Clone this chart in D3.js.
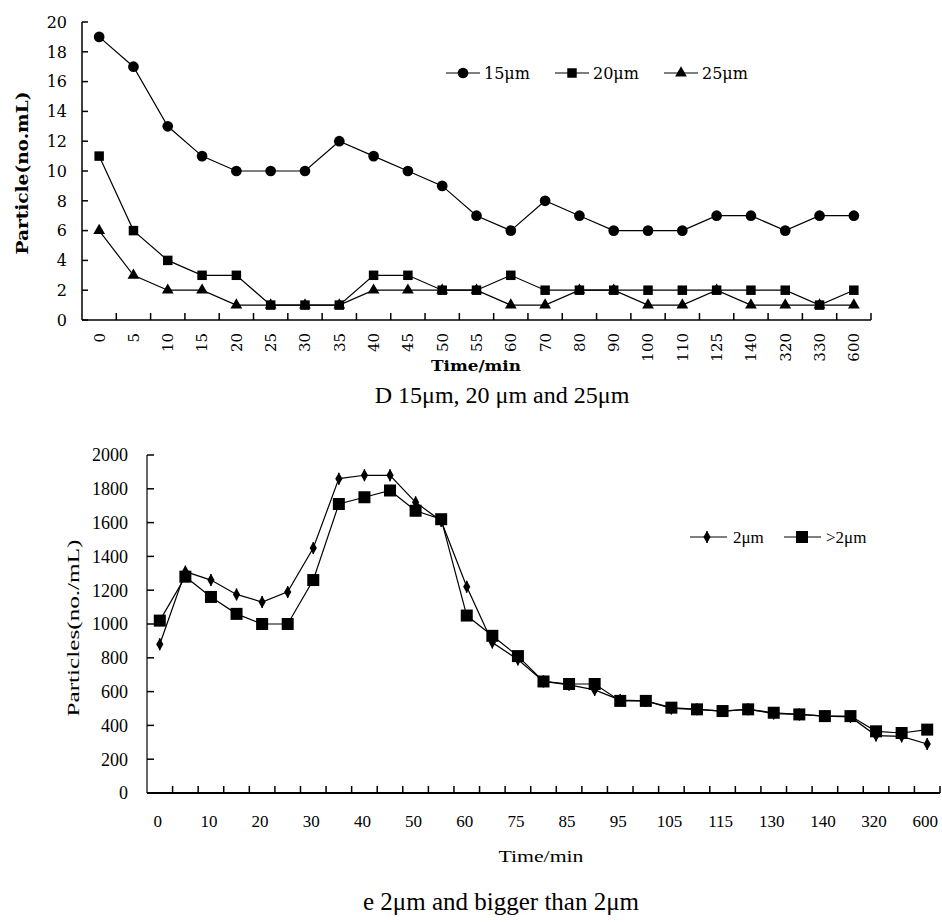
<!DOCTYPE html>
<html><head><meta charset="utf-8">
<script src="https://cdn.jsdelivr.net/npm/d3@7"></script>
<style>body{margin:0;background:#fff}svg{display:block}</style>
</head><body>
<svg id="c" width="942" height="922"></svg>
<script>
// ---------- DATA: chart D ----------
const topCategories = ["0","5","10","15","20","25","30","35","40","45","50","55","60","70","80","90","100","110","125","140","320","330","600"];
const series15um = [19,17,13,11,10,10,10,12,11,10,9,7,6,8,7,6,6,6,7,7,6,7,7];
const series20um = [11,6,4,3,3,1,1,1,3,3,2,2,3,2,2,2,2,2,2,2,2,1,2];
const series25um = [6,3,2,2,1,1,1,1,2,2,2,2,1,1,2,2,1,1,2,1,1,1,1];
const topYTicks = [0,2,4,6,8,10,12,14,16,18,20];
const topLegend = ["15μm","20μm","25μm"];

// ---------- DATA: chart e ----------
const bottomCategories = ["0","5","10","15","20","25","30","35","40","45","50","55","60","70","75","80","85","90","95","100","105","110","115","125","130","135","140","150","320","330","600"];
const bottomTickLabels = ["0","10","20","30","40","50","60","75","85","95","105","115","130","140","320","600"];
const series2um   = [880,1310,1260,1175,1130,1190,1450,1860,1880,1880,1720,1610,1220,890,790,660,640,610,550,545,500,495,485,495,470,465,455,450,340,335,290];
const seriesGt2um = [1020,1280,1160,1060,1000,1000,1260,1710,1750,1790,1670,1620,1050,930,810,660,645,645,545,545,505,495,485,495,475,465,455,455,365,355,375];
const bottomYTicks = [0,200,400,600,800,1000,1200,1400,1600,1800,2000];
const bottomLegend = ["2μm",">2μm"];

const svg = d3.select("#c");

// ================= TOP CHART =================
{
  const g = svg.append("g");
  const x = d3.scaleBand().domain(topCategories).range([82, 871]);
  const y = d3.scaleLinear().domain([0, 20]).range([320, 22]);
  const tf = "DejaVu Serif";

  // y axis
  g.append("line").attr("x1",82).attr("x2",82).attr("y1",y(20)).attr("y2",y(0)).attr("stroke","#000").attr("stroke-width",1.5);
  topYTicks.forEach(t=>{
    g.append("line").attr("x1",82).attr("x2",88).attr("y1",y(t)).attr("y2",y(t)).attr("stroke","#000").attr("stroke-width",1.5);
    g.append("text").attr("x",67).attr("y",y(t)).attr("dy","0.36em").attr("text-anchor","end")
      .attr("font-family",tf).attr("font-size",16).text(t);
  });
  // x axis
  g.append("line").attr("x1",82).attr("x2",871).attr("y1",y(0)).attr("y2",y(0)).attr("stroke","#000").attr("stroke-width",1.5);
  topCategories.forEach((c,i)=>{
    const bx = x(c) + x.bandwidth();
    g.append("line").attr("x1",bx).attr("x2",bx).attr("y1",y(0)).attr("y2",y(0)-7).attr("stroke","#000").attr("stroke-width",1.5);
    const cx = x(c) + x.bandwidth()/2;
    g.append("text").attr("transform",`translate(${cx},333) rotate(-90)`).attr("dy","0.36em")
      .attr("text-anchor","end").attr("font-family",tf).attr("font-size",15).text(c);
  });
  // axis titles
  g.append("text").attr("x",476).attr("y",371).attr("text-anchor","middle")
    .attr("font-family",tf).attr("font-weight","bold").attr("font-size",15)
    .attr("textLength",90).attr("lengthAdjust","spacingAndGlyphs").text("Time/min");
  g.append("text").attr("transform","translate(28,173) rotate(-90)").attr("text-anchor","middle")
    .attr("font-family",tf).attr("font-weight","bold").attr("font-size",17)
    .attr("textLength",163).attr("lengthAdjust","spacingAndGlyphs").text("Particle(no.mL)");

  const line = d3.line().x((d,i)=>x(topCategories[i])+x.bandwidth()/2).y(d=>y(d));
  const sets = [series15um, series20um, series25um];
  const syms = [d3.symbolCircle, d3.symbolSquare, d3.symbolTriangle];
  const sizes = [90, 90, 60];
  sets.forEach((s,k)=>{
    g.append("path").attr("d",line(s)).attr("fill","none").attr("stroke","#000").attr("stroke-width",1.2);
    g.selectAll(null).data(s).enter().append("path")
      .attr("transform",(d,i)=>`translate(${x(topCategories[i])+x.bandwidth()/2},${y(d)})`)
      .attr("d",d3.symbol().type(syms[k]).size(sizes[k])).attr("fill","#000");
  });
  // legend
  const lx = [463, 572, 681];
  topLegend.forEach((t,k)=>{
    g.append("line").attr("x1",lx[k]-17).attr("x2",lx[k]+17).attr("y1",73).attr("y2",73).attr("stroke","#000").attr("stroke-width",1.2);
    g.append("path").attr("transform",`translate(${lx[k]},73)`).attr("d",d3.symbol().type(syms[k]).size(sizes[k])).attr("fill","#000");
    g.append("text").attr("x",lx[k]+21).attr("y",73).attr("dy","0.38em").attr("font-family",tf).attr("font-size",16).text(t);
  });
  g.append("text").attr("x",502).attr("y",403).attr("text-anchor","middle")
    .attr("font-family","Liberation Serif").attr("font-size",24).text("D 15μm, 20 μm and 25μm");
}

// ================= BOTTOM CHART =================
{
  const g = svg.append("g");
  const x = d3.scaleBand().domain(bottomCategories).range([147, 940]);
  const y = d3.scaleLinear().domain([0, 2000]).range([793, 455]);
  const bf = "Liberation Serif";

  g.append("line").attr("x1",147).attr("x2",147).attr("y1",y(2000)).attr("y2",y(0)).attr("stroke","#000").attr("stroke-width",1.2);
  bottomYTicks.forEach(t=>{
    g.append("line").attr("x1",147).attr("x2",154).attr("y1",y(t)).attr("y2",y(t)).attr("stroke","#000").attr("stroke-width",1.5);
    g.append("text").attr("x",128).attr("y",y(t)).attr("dy","0.35em").attr("text-anchor","end")
      .attr("font-family",bf).attr("font-size",18).text(t);
  });
  g.append("line").attr("x1",147).attr("x2",940).attr("y1",y(0)).attr("y2",y(0)).attr("stroke","#000").attr("stroke-width",2);
  bottomCategories.forEach((c,i)=>{
    const bx = x(c) + x.bandwidth();
    g.append("line").attr("x1",bx).attr("x2",bx).attr("y1",y(0)).attr("y2",y(0)-7).attr("stroke","#000").attr("stroke-width",1.5);
    if (i % 2 === 0 && bottomTickLabels.includes(c)) {
      g.append("text").attr("x",x(c)+x.bandwidth()/2 - 2).attr("y",827).attr("text-anchor","middle")
        .attr("font-family",bf).attr("font-size",17).text(c);
    }
  });
  g.append("text").attr("x",541).attr("y",862).attr("text-anchor","middle")
    .attr("font-family",bf).attr("font-size",16)
    .attr("textLength",85).attr("lengthAdjust","spacingAndGlyphs").text("Time/min");
  g.append("text").attr("transform","translate(79,628) rotate(-90)").attr("text-anchor","middle")
    .attr("font-family",bf).attr("font-size",17)
    .attr("textLength",177).attr("lengthAdjust","spacingAndGlyphs").text("Particles(no./mL)");

  const cx = i => x(bottomCategories[i]) + x.bandwidth()/2;
  const line = d3.line().x((d,i)=>cx(i)).y(d=>y(d));
  const diamond = (sel) => {
    sel.append("path").attr("d",d3.symbol().type(d3.symbolDiamond).size(45)).attr("fill","#000");
    sel.append("line").attr("x1",0).attr("x2",0).attr("y1",-6).attr("y2",6).attr("stroke","#000").attr("stroke-width",1.3);
  };
  g.append("path").attr("d",line(series2um)).attr("fill","none").attr("stroke","#000").attr("stroke-width",1.2);
  g.append("path").attr("d",line(seriesGt2um)).attr("fill","none").attr("stroke","#000").attr("stroke-width",1.2);
  series2um.forEach((d,i)=>{ diamond(g.append("g").attr("transform",`translate(${cx(i)},${y(d)})`)); });
  g.selectAll(null).data(seriesGt2um).enter().append("rect")
    .attr("x",(d,i)=>cx(i)-6).attr("y",d=>y(d)-6).attr("width",12).attr("height",12).attr("fill","#000");

  // legend
  g.append("line").attr("x1",690).attr("x2",727).attr("y1",537).attr("y2",537).attr("stroke","#000").attr("stroke-width",1.2);
  diamond(g.append("g").attr("transform","translate(707,537)"));
  g.append("text").attr("x",733).attr("y",537).attr("dy","0.38em").attr("font-family",bf).attr("font-size",17).text(bottomLegend[0]);
  g.append("line").attr("x1",784).attr("x2",821).attr("y1",537).attr("y2",537).attr("stroke","#000").attr("stroke-width",1.2);
  g.append("rect").attr("x",796).attr("y",531).attr("width",12).attr("height",12).attr("fill","#000");
  g.append("text").attr("x",826).attr("y",537).attr("dy","0.38em").attr("font-family",bf).attr("font-size",17).text(bottomLegend[1]);

  g.append("text").attr("x",501).attr("y",910).attr("text-anchor","middle")
    .attr("font-family","Liberation Serif").attr("font-size",25).text("e 2μm and bigger than 2μm");
}
</script>
</body></html>
